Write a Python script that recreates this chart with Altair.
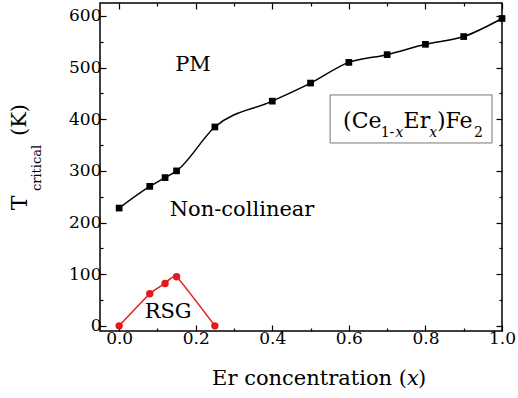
import altair as alt
import pandas as pd

# ---- data ----
x_black = [0.0, 0.08, 0.12, 0.15, 0.25, 0.4, 0.5, 0.6, 0.7, 0.8, 0.9, 1.0]
t_black = [228, 270, 287, 300, 385, 435, 470, 510, 525, 545, 560, 595]
x_red = [0.0, 0.08, 0.12, 0.15, 0.25]
t_red = [0, 62, 82, 95, 0]

x_major = [0.0, 0.2, 0.4, 0.6, 0.8, 1.0]
x_minor = [0.1, 0.3, 0.5, 0.7, 0.9]
y_major = [0, 100, 200, 300, 400, 500, 600]
y_minor = [50, 150, 250, 350, 450, 550]

XDOM = [-0.05, 1.0]
YDOM = [-10, 625]
FONT = "DejaVu Serif"

black = pd.DataFrame({"x": x_black, "t": t_black})
red = pd.DataFrame({"x": x_red, "t": t_red})

xs = alt.Scale(domain=XDOM, nice=False, zero=False)
ys = alt.Scale(domain=YDOM, nice=False, zero=False)


def axis(orient, values, size, labels, fmt):
    return alt.Axis(
        orient=orient, values=values, tickSize=alt.ExprRef(expr=f"-{size}"),
        tickColor="black", tickWidth=1.2, domain=False, grid=False,
        labels=labels, format=fmt, labelFont=FONT, labelFontSize=17,
        labelColor="black", labelPadding=5, labelOverlap=False,
        labelFlush=False, title=None)


def axis_layer(xa, ya):
    return alt.Chart(black).mark_point(opacity=0).encode(
        x=alt.X("x:Q", scale=xs, axis=xa),
        y=alt.Y("t:Q", scale=ys, axis=ya))


A = axis_layer(axis("bottom", x_major, 6, True, ".1f"), axis("left", y_major, 6, True, "d"))
B = axis_layer(axis("bottom", x_minor, 3, False, ".1f"), axis("left", y_minor, 3, False, "d"))
C = axis_layer(axis("top", x_major, 6, False, ".1f"), axis("right", y_major, 6, False, "d"))
D = axis_layer(axis("top", x_minor, 3, False, ".1f"), axis("right", y_minor, 3, False, "d"))

enc = dict(x=alt.X("x:Q", scale=xs, axis=None), y=alt.Y("t:Q", scale=ys, axis=None))

black_line = alt.Chart(black).mark_line(color="black", strokeWidth=1.5, interpolate="monotone").encode(**enc)
black_pts = alt.Chart(black).mark_point(shape="square", filled=True, color="black", size=45, opacity=1).encode(**enc)
red_line = alt.Chart(red).mark_line(color="#e31a1c", strokeWidth=1.5, interpolate="cardinal", tension=0.6).encode(**enc)
red_pts = alt.Chart(red).mark_point(shape="circle", filled=True, color="#e31a1c", size=55, opacity=1).encode(**enc)

box = alt.Chart(pd.DataFrame({"x": [0.551], "x2": [0.974], "t": [354], "t2": [447]})).mark_rect(
    fill="white", stroke="#777777", strokeWidth=1).encode(
    x=alt.X("x:Q", scale=xs, axis=None), x2="x2:Q",
    y=alt.Y("t:Q", scale=ys, axis=None), y2="t2:Q")


def dtext(s, x, y, size, **kw):
    df = pd.DataFrame({"x": [x], "t": [y], "s": [s]})
    return alt.Chart(df).mark_text(font=FONT, fontSize=size, color="black", **kw).encode(
        x=alt.X("x:Q", scale=xs, axis=None), y=alt.Y("t:Q", scale=ys, axis=None), text="s:N")


def ptext(s, x, y, size, **kw):
    df = pd.DataFrame({"s": [s]})
    return alt.Chart(df).mark_text(font=FONT, fontSize=size, color="black", **kw).encode(
        x=alt.value(x), y=alt.value(y), text="s:N")


labels = [
    dtext("PM", 0.193, 505, 21, align="center", baseline="middle"),
    dtext("Non-collinear", 0.321, 224, 21, align="center", baseline="middle"),
    dtext("RSG", 0.128, 27, 21, align="center", baseline="middle"),
    # formula (Ce1-xErx)Fe2
    dtext("(Ce", 0.585, 383, 22, align="left", baseline="alphabetic"),
    dtext("1-", 0.683, 366, 14, align="left", baseline="alphabetic"),
    dtext("x", 0.722, 366, 14, align="left", baseline="alphabetic", fontStyle="italic"),
    dtext("Er", 0.743, 383, 22, align="left", baseline="alphabetic"),
    dtext("x", 0.810, 366, 14, align="left", baseline="alphabetic", fontStyle="italic"),
    dtext(")Fe", 0.830, 383, 22, align="left", baseline="alphabetic"),
    dtext("2", 0.927, 366, 14, align="left", baseline="alphabetic"),
    # x-axis title
    ptext("Er concentration (", 307, 382, 21, align="right", baseline="alphabetic"),
    ptext("x", 307, 382, 21, align="left", baseline="alphabetic", fontStyle="italic"),
    ptext(")", 318, 382, 21, align="left", baseline="alphabetic"),
    # y-axis title
    ptext("T", -80, 200, 22, align="center", baseline="middle", angle=270),
    ptext("critical", -63, 165, 13, align="center", baseline="middle", angle=270),
    ptext("(K)", -80, 117, 21, align="center", baseline="middle", angle=270),
]

chart = alt.layer(
    A, B, C, D, box, black_line, black_pts, red_line, red_pts, *labels
).resolve_axis(x="independent", y="independent").properties(
    width=402, height=328, autosize="none",
    padding={"left": 100, "top": 3, "right": 16, "bottom": 67},
    background="white",
).configure_view(stroke="black", strokeWidth=1.5)

chart.save("out.html", embed_options={"renderer": "svg", "actions": False})
